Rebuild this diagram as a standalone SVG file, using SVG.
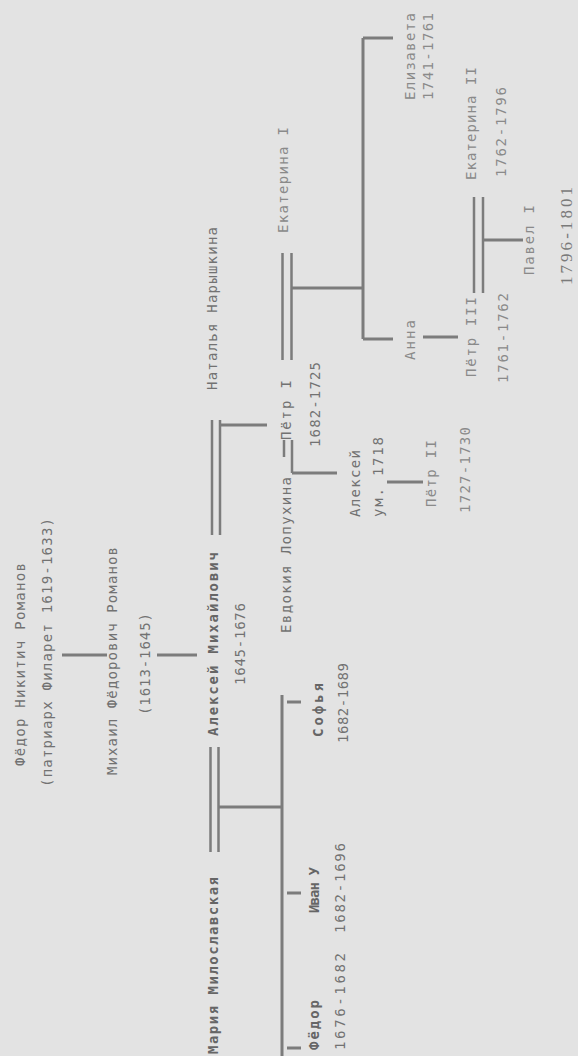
<svg xmlns="http://www.w3.org/2000/svg" width="578" height="1056" viewBox="0 0 578 1056">
<style>
.t{font-family:"DejaVu Sans Mono","Liberation Mono",monospace;font-size:14px;fill:#727272;}
.b{font-weight:bold;fill:#666;}
.l{fill:#8a8a8a;}
.s{font-family:"Liberation Serif",serif;font-size:17px;fill:#7a7a7a;}
.c{stroke:#7c7c7c;stroke-width:3;fill:none;}
.d{stroke:#7c7c7c;stroke-width:2.5;fill:none;}
</style>
<rect width="578" height="1056" fill="#e3e3e3"/>
<g transform="translate(0,1056) rotate(-90)">
<g id="connectors">
<path class="c" d="M401,62V107M401,157V197"/>
<path class="d" d="M204,210.5H309M204,218.5H309"/>
<path class="c" d="M249,218.5V282M0,282H361M8,287V301M163,287V301M354,287V301"/>
<path class="d" d="M521,212H636M521,220H636"/>
<path class="c" d="M631,220V267"/>
<path class="d" d="M599,284H616M583,292H616"/>
<path class="c" d="M583,292V337M574,387V423"/>
<path class="d" d="M696,282.5H803M696,291.5H803"/>
<path class="c" d="M768,291.5V363M717,363H1018M717,363V393M1018,363V393"/>
<path class="c" d="M719,423V458"/>
<path class="d" d="M763,474H859M763,483H859"/>
<path class="c" d="M816,483V523"/>
</g>
<g id="fedor-nikitich"><text class="t" x="290" y="25" textLength="203">Фёдор Никитич Романов</text>
<text class="t" x="269" y="52" textLength="269">(патриарх Филарет 1619-1633)</text></g>
<g id="mikhail"><text class="t" x="281" y="117" textLength="228">Михаил Фёдорович Романов</text>
<text class="t" x="341" y="150" textLength="102">(1613-1645)</text></g>
<g id="maria"><text class="t b" x="2" y="218" textLength="177">Мария Милославская</text></g>
<g id="aleksei-m"><text class="t b" x="320" y="218" textLength="184">Алексей Михайлович</text>
<text class="t" x="371" y="245" textLength="82">1645-1676</text></g>
<g id="natalia"><text class="t" x="666" y="217" textLength="163">Наталья Нарышкина</text></g>
<g id="fedor"><text class="t b" x="6" y="319" textLength="50">Фёдор</text>
<text class="t" x="6" y="345" textLength="97">1676-1682</text></g>
<g id="ivan"><text class="t b" x="143" y="319" textLength="46">Иван У</text>
<text class="t" x="123" y="345" textLength="90">1682-1696</text></g>
<g id="sofia"><text class="t b" x="319" y="323" textLength="54">Софья</text>
<text class="t" x="313" y="348" textLength="80">1682-1689</text></g>
<g id="evdokia"><text class="t" x="423" y="291" textLength="156">Евдокия Лопухина</text></g>
<g id="petr1"><text class="t" x="616" y="291" textLength="60">Пётр I</text>
<text class="t" x="609" y="320" textLength="85">1682-1725</text></g>
<g id="ekaterina1"><text class="t l" x="823" y="288" textLength="106">Екатерина I</text></g>
<g id="aleksei"><text class="t" x="539" y="360" textLength="67">Алексей</text>
<text class="t" x="539" y="383" textLength="80">ум. 1718</text></g>
<g id="petr2"><text class="t l" x="549" y="436" textLength="67">Пётр II</text>
<text class="t l" x="543" y="470" textLength="86">1727-1730</text></g>
<g id="elizaveta"><text class="t l" x="956" y="415" textLength="87">Елизавета</text>
<text class="t l" x="956" y="433" textLength="87">1741-1761</text></g>
<g id="anna"><text class="t l" x="696" y="415" textLength="40">Анна</text></g>
<g id="petr3"><text class="t l" x="679" y="476" textLength="80">Пётр III</text>
<text class="t l" x="673" y="508" textLength="90">1761-1762</text></g>
<g id="ekaterina2"><text class="t l" x="876" y="476" textLength="113">Екатерина II</text>
<text class="t l" x="879" y="506" textLength="90">1762-1796</text></g>
<g id="pavel"><text class="t l" x="781" y="534" textLength="70">Павел I</text>
<text class="s" x="771" y="572" textLength="98">1796-1801</text></g>
</g>
</svg>
